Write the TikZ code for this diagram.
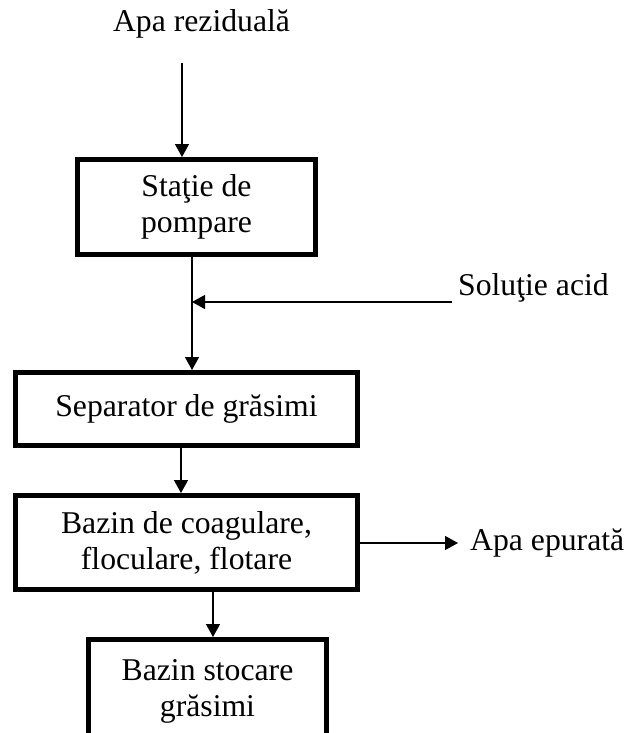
\documentclass[tikz,border=0pt]{standalone}
\usepackage{fontspec}
\setmainfont{Liberation Serif}
\usetikzlibrary{arrows.meta}
\begin{document}
\begin{tikzpicture}[x=1pt,y=-1pt,
  every node/.style={font=\fontsize{31.7}{36}\selectfont, inner sep=0pt},
  stage/.style={draw, line width=5pt, align=center},
  flow/.style={line width=1.3pt, -{Triangle[length=13pt,width=14pt]}},
  tag/.style={anchor=base west}]
  \clip (0,0) rectangle (625,733);
  \fill[white] (0,0) rectangle (625,733);

  % process stages
  \node[stage, minimum width=238pt, minimum height=95pt]  (pump) at (196.5,207)   {Staţie de\\pompare};
  \node[stage, minimum width=342pt, minimum height=73pt]  (sep)  at (186.5,409)   {Separator de grăsimi};
  \node[stage, minimum width=342pt, minimum height=94pt]  (coag) at (186.5,542.5) {Bazin de coagulare,\\floculare, flotare};
  \node[stage, minimum width=238pt, minimum height=103pt] (store) at (207.5,691) {Bazin stocare\\grăsimi};

  % inputs and outputs
  \node[anchor=base] (raw) at (201.5,32) {Apa reziduală};
  \node[tag] (acidtxt) at (458,295) {Soluţie acid};
  \node[tag] (clean) at (470,550) {Apa epurată};

  \coordinate (inflow) at (182,63);
  \coordinate (trunk)  at (192,302);
  \coordinate (acid)   at (452,302);
  \coordinate (outflow) at (458,543);

  % connectors
  \draw[flow] (inflow) -- (inflow |- pump.north);
  \draw[flow] (trunk |- pump.south) -- (trunk |- sep.north);
  \draw[flow] (acid) -- (trunk);
  \draw[flow] (181,0 |- sep.south) -- (181,0 |- coag.north);
  \draw[flow] (coag.east |- outflow) -- (outflow);
  \draw[flow] (213,0 |- coag.south) -- (213,0 |- store.north);
\end{tikzpicture}
\end{document}
